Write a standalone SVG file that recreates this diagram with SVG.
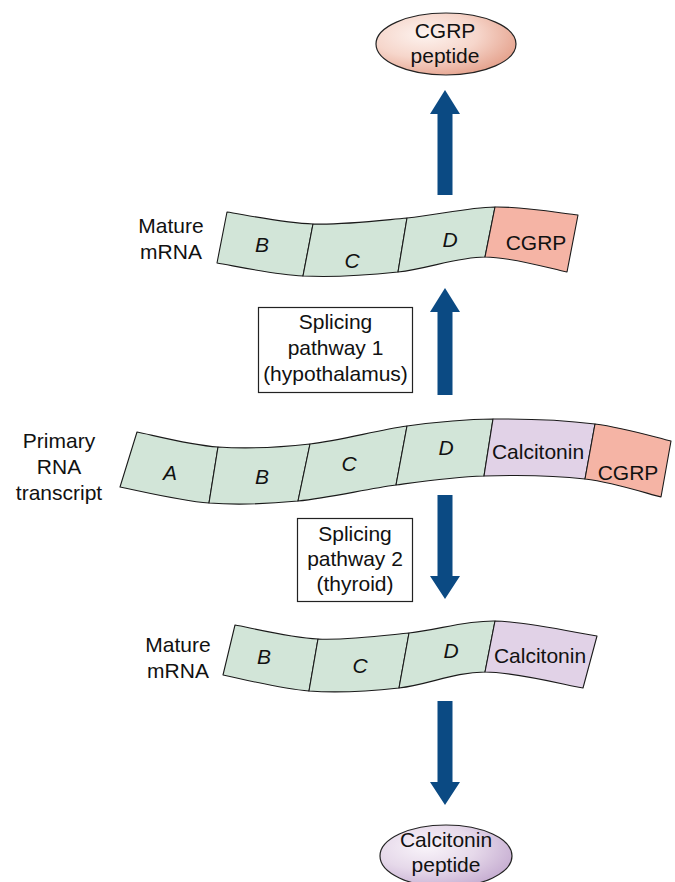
<svg xmlns="http://www.w3.org/2000/svg" width="675" height="882" viewBox="0 0 675 882">
<defs>
<radialGradient id="gPink" cx="0.35" cy="0.35" r="0.75">
<stop offset="0" stop-color="#fdf3ef"/>
<stop offset="0.5" stop-color="#f6d6cb"/>
<stop offset="1" stop-color="#e39c86"/>
</radialGradient>
<radialGradient id="gLav" cx="0.35" cy="0.35" r="0.75">
<stop offset="0" stop-color="#f9f4fa"/>
<stop offset="0.5" stop-color="#e6d9ea"/>
<stop offset="1" stop-color="#c3a9cf"/>
</radialGradient>
</defs>
<style>
text{font-family:"Liberation Sans",Arial,sans-serif;font-size:21px;fill:#111}
.c{text-anchor:middle}
.i{font-style:italic}
.seg{stroke:#1a1a1a;stroke-width:1.1;stroke-linejoin:round}
.ex{fill:#d2e5d8}
.cg{fill:#f5b4a5}
.ca{fill:#e1d2e7}
.box{fill:#fff;stroke:#222;stroke-width:1.2}
.arr{fill:#0b4a83}
</style>

<g id="connectors">
<polygon class="arr" points="445,90 460,114 452.5,114 452.5,195 437.5,195 437.5,114 430,114"/>
<polygon class="arr" points="445,288 460,312 452.5,312 452.5,395 437.5,395 437.5,312 430,312"/>
<polygon class="arr" points="437.5,495 452.5,495 452.5,576 460,576 445,599 430,576 437.5,576"/>
<polygon class="arr" points="437.5,701 452.5,701 452.5,782 460,782 445,805 430,782 437.5,782"/>
</g>

<g id="cgrp-peptide">
<ellipse cx="446" cy="44" rx="70" ry="31" fill="url(#gPink)" stroke="#222" stroke-width="1.2"/>
<text class="c" x="445" y="38">CGRP</text>
<text class="c" x="445" y="63">peptide</text>
</g>

<g id="mature-mrna-1">
<text class="c" x="171" y="233">Mature</text>
<text class="c" x="171" y="259">mRNA</text>
<path class="seg ex" d="M227,212 C241.3,214 283,223 313,224 L303,276 C272.8,274.5 231.3,265.2 217,263 Z"/>
<path class="seg ex" d="M313,224 C343,225 376.7,220.8 407,218 L398,272 C367.7,275.2 333.2,277.5 303,276 Z"/>
<path class="seg ex" d="M407,218 C437.3,215.2 466.5,207.5 495,207 L485,257 C456.8,257 428.3,268.8 398,272 Z"/>
<path class="seg cg" d="M495,207 C523.5,206.5 564.2,213.7 578,215 L567,272 C553.3,269.5 513.2,257 485,257 Z"/>
<text class="c i" x="262" y="252">B</text>
<text class="c i" x="352" y="268">C</text>
<text class="c i" x="450" y="247">D</text>
<text class="c" x="536" y="250">CGRP</text>
</g>

<g id="splicing-1">
<rect class="box" x="258.5" y="307.5" width="154" height="85"/>
<text class="c" x="335.5" y="329">Splicing</text>
<text class="c" x="335.5" y="355">pathway 1</text>
<text class="c" x="335.5" y="381">(hypothalamus)</text>
</g>

<g id="primary-transcript">
<text class="c" x="59" y="448">Primary</text>
<text class="c" x="59" y="474">RNA</text>
<text class="c" x="59" y="500">transcript</text>
<path class="seg ex" d="M137,432 C150.5,434.5 189.2,445 218,447 L209,503 C179.3,500.7 134.8,489.7 120,487 Z"/>
<path class="seg ex" d="M218,447 C246.8,449 278.5,447.5 310,444 L298,501 C266.8,504 238.7,505.3 209,503 Z"/>
<path class="seg ex" d="M310,444 C341.5,440.5 376.5,430.2 407,426 L396,485 C365,489.2 329.2,498 298,501 Z"/>
<path class="seg ex" d="M407,426 C437.5,421.8 461.7,419.3 493,419 L484,476 C452.5,477 427,480.8 396,485 Z"/>
<path class="seg ca" d="M493,419 C524.3,418.7 565.3,420.3 595,424 L585,479 C555.5,475.5 515.5,475 484,476 Z"/>
<path class="seg cg" d="M595,424 C624.7,427.7 658.3,438.2 671,441 L661,497 C648.3,494 614.5,482.5 585,479 Z"/>
<text class="c i" x="170" y="480">A</text>
<text class="c i" x="262" y="484">B</text>
<text class="c i" x="349" y="471">C</text>
<text class="c i" x="446" y="455">D</text>
<text class="c" x="538" y="459">Calcitonin</text>
<text class="c" x="628" y="480">CGRP</text>
</g>

<g id="splicing-2">
<rect class="box" x="297.5" y="518.5" width="115" height="83"/>
<text class="c" x="355" y="541">Splicing</text>
<text class="c" x="355" y="566">pathway 2</text>
<text class="c" x="355" y="591">(thyroid)</text>
</g>

<g id="mature-mrna-2">
<text class="c" x="178" y="652">Mature</text>
<text class="c" x="178" y="678">mRNA</text>
<path class="seg ex" d="M235,625 C248.8,627.3 289,637.7 318,639 L309,691 C279.7,688.8 237.3,677.7 223,675 Z"/>
<path class="seg ex" d="M318,639 C347,640.3 379.5,636 409,633 L399,688 C369.7,691.2 338.3,693.2 309,691 Z"/>
<path class="seg ex" d="M409,633 C438.5,630 463.7,620.5 495,621 L485,672 C454.3,672 428.3,684.8 399,688 Z"/>
<path class="seg ca" d="M495,621 C526.3,621.5 580,633.5 597,636 L583,688 C566.7,685.3 515.7,672 485,672 Z"/>
<text class="c i" x="264" y="664">B</text>
<text class="c i" x="360" y="673">C</text>
<text class="c i" x="451" y="658">D</text>
<text class="c" x="540" y="663">Calcitonin</text>
</g>

<g id="calcitonin-peptide">
<ellipse cx="446" cy="856" rx="66" ry="31" fill="url(#gLav)" stroke="#222" stroke-width="1.2"/>
<text class="c" x="446" y="847">Calcitonin</text>
<text class="c" x="446" y="872">peptide</text>
</g>
</svg>
